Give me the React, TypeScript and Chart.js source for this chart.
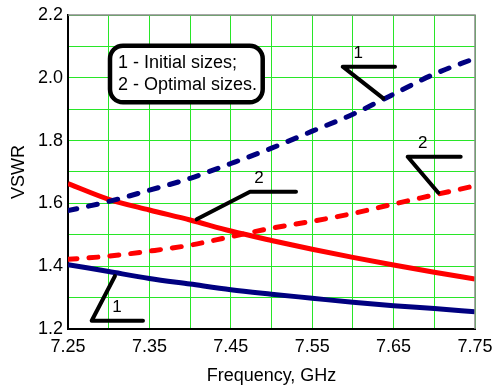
import React, { useEffect, useRef } from 'react';
import { Chart, registerables } from 'chart.js';

Chart.register(...registerables);

const frequencies = [7.25, 7.3, 7.35, 7.4, 7.45, 7.5, 7.55, 7.6, 7.65, 7.7, 7.75];
const initialDashed = [1.577, 1.606, 1.642, 1.68, 1.727, 1.776, 1.83, 1.884, 1.948, 2.012, 2.062];
const initialSolid = [1.405, 1.383, 1.361, 1.343, 1.325, 1.311, 1.298, 1.285, 1.274, 1.265, 1.255];
const optimalDashed = [1.422, 1.432, 1.448, 1.467, 1.494, 1.521, 1.543, 1.568, 1.598, 1.627, 1.656];
const optimalSolid = [1.663, 1.613, 1.579, 1.547, 1.512, 1.482, 1.454, 1.428, 1.404, 1.381, 1.359];

const xTickLabels = ['7.25', '7.35', '7.45', '7.55', '7.65', '7.75'];
const yTickLabels = ['1.2', '1.4', '1.6', '1.8', '2.0', '2.2'];

const legendLines = ['1 - Initial sizes;', '2 - Optimal sizes.'];
const legendBoxX = [7.3016, 7.4892];
const legendBoxY = [2.1022, 1.922];
const legendTextX = 7.3114;
const legendTextY = [2.0462, 1.977];

const calloutText = ['1', '2', '2', '1'];
const calloutTextX = [7.6066, 7.6858, 7.4846, 7.3102];
const calloutTextY = [2.078, 1.7914, 1.6809, 1.2701];
const calloutPathX = [
  [7.6517, 7.5875, 7.6373],
  [7.7324, 7.6673, 7.7049],
  [7.5301, 7.4736, 7.4081],
  [7.3421, 7.2791, 7.3077],
];
const calloutPathY = [
  [2.0354, 2.0354, 1.9347],
  [1.7487, 1.7487, 1.6341],
  [1.6373, 1.6373, 1.5494],
  [1.2264, 1.2264, 1.3688],
];

const FONT = 'Arial, "Liberation Sans", sans-serif';

const annotationPlugin = {
  id: 'annotations',
  afterDraw(chart: any) {
    const { ctx, scales } = chart;
    const x = scales.x;
    const y = scales.y;
    ctx.save();
    const a = chart.chartArea;
    ctx.strokeStyle = '#8a8a8a';
    ctx.lineWidth = 1.5;
    ctx.beginPath();
    ctx.moveTo(a.left, a.top);
    ctx.lineTo(a.right, a.top);
    ctx.lineTo(a.right, a.bottom);
    ctx.stroke();

    ctx.strokeStyle = '#000';
    ctx.lineWidth = 4;
    ctx.lineCap = 'round';
    ctx.lineJoin = 'round';
    calloutPathX.forEach((xs, i) => {
      ctx.beginPath();
      xs.forEach((xv, j) => {
        const px = x.getPixelForValue(xv);
        const py = y.getPixelForValue(calloutPathY[i][j]);
        if (j === 0) ctx.moveTo(px, py);
        else ctx.lineTo(px, py);
      });
      ctx.stroke();
    });
    ctx.fillStyle = '#000';
    ctx.font = '17px ' + FONT;
    ctx.textAlign = 'center';
    ctx.textBaseline = 'middle';
    calloutText.forEach((t, i) => {
      ctx.fillText(t, x.getPixelForValue(calloutTextX[i]), y.getPixelForValue(calloutTextY[i]));
    });

    const l = x.getPixelForValue(legendBoxX[0]);
    const r = x.getPixelForValue(legendBoxX[1]);
    const t = y.getPixelForValue(legendBoxY[0]);
    const b = y.getPixelForValue(legendBoxY[1]);
    ctx.beginPath();
    ctx.roundRect(l, t, r - l, b - t, 13);
    ctx.fillStyle = '#fff';
    ctx.fill();
    ctx.lineWidth = 4.5;
    ctx.strokeStyle = '#000';
    ctx.stroke();
    ctx.fillStyle = '#000';
    ctx.font = '18px ' + FONT;
    ctx.textAlign = 'left';
    legendLines.forEach((s, i) => {
      ctx.fillText(s, x.getPixelForValue(legendTextX), y.getPixelForValue(legendTextY[i]));
    });
    ctx.restore();
  },
};

export default function App() {
  const ref = useRef<HTMLCanvasElement>(null);
  useEffect(() => {
    if (!ref.current) return;
    const mk = (vals: number[]) => frequencies.map((f, i) => ({ x: f, y: vals[i] }));
    const chart = new Chart(ref.current, {
      type: 'line',
      data: {
        datasets: [
          {
            data: mk(initialDashed),
            borderColor: '#000080',
            borderWidth: 5,
            borderDash: [9, 12],
            borderCapStyle: 'round',
            pointRadius: 0,
            cubicInterpolationMode: 'monotone',
          },
          {
            data: mk(optimalSolid),
            borderColor: '#ff0000',
            borderWidth: 5,
            pointRadius: 0,
            cubicInterpolationMode: 'monotone',
          },
          {
            data: mk(optimalDashed),
            borderColor: '#ff0000',
            borderWidth: 5,
            borderDash: [9, 12],
            borderCapStyle: 'round',
            pointRadius: 0,
            cubicInterpolationMode: 'monotone',
          },
          {
            data: mk(initialSolid),
            borderColor: '#000080',
            borderWidth: 5,
            pointRadius: 0,
            cubicInterpolationMode: 'monotone',
          },
        ],
      },
      options: {
        animation: false,
        responsive: false,
        devicePixelRatio: 1,
        layout: { padding: { top: 15, right: 18, left: 0, bottom: 0 } },
        plugins: { legend: { display: false }, tooltip: { enabled: false } },
        scales: {
          x: {
            type: 'linear',
            min: 7.25,
            max: 7.75,
            afterFit: (s: any) => {
              s.height = 60;
              s.paddingLeft = 0;
              s.paddingRight = 0;
            },
            ticks: {
              stepSize: 0.05,
              autoSkip: false,
              maxRotation: 0,
              padding: 7,
              color: '#000',
              font: { family: FONT, size: 18 },
              callback: (v: any) => {
                const s = Number(v).toFixed(2);
                return xTickLabels.includes(s) ? s : '';
              },
            },
            grid: {
              drawTicks: false,
              lineWidth: 1,
              color: 'rgb(40,230,40)',
            },
            border: { color: '#000', width: 2 },
            title: {
              display: true,
              text: 'Frequency, GHz',
              color: '#000',
              font: { family: FONT, size: 18 },
              padding: { top: 0, bottom: 2 },
            },
          },
          y: {
            type: 'linear',
            min: 1.2,
            max: 2.2,
            afterFit: (s: any) => {
              s.width = 68;
              s.paddingTop = 0;
              s.paddingBottom = 0;
            },
            ticks: {
              stepSize: 0.1,
              autoSkip: false,
              padding: 5,
              color: '#000',
              font: { family: FONT, size: 18 },
              callback: (v: any) => {
                const s = Number(v).toFixed(1);
                return yTickLabels.includes(s) ? s : '';
              },
            },
            grid: {
              drawTicks: false,
              lineWidth: 1,
              color: 'rgb(40,230,40)',
            },
            border: { color: '#000', width: 2 },
            title: {
              display: true,
              text: 'VSWR',
              color: '#000',
              font: { family: FONT, size: 18 },
              padding: { top: 8, bottom: 0 },
            },
          },
        },
      },
      plugins: [annotationPlugin],
    } as any);
    return () => chart.destroy();
  }, []);
  return (
    <div style={{ position: 'absolute', left: 0, top: 0, width: 493, height: 389, background: '#fff' }}>
      <canvas ref={ref} width={493} height={389} style={{ display: 'block' }} />
    </div>
  );
}
